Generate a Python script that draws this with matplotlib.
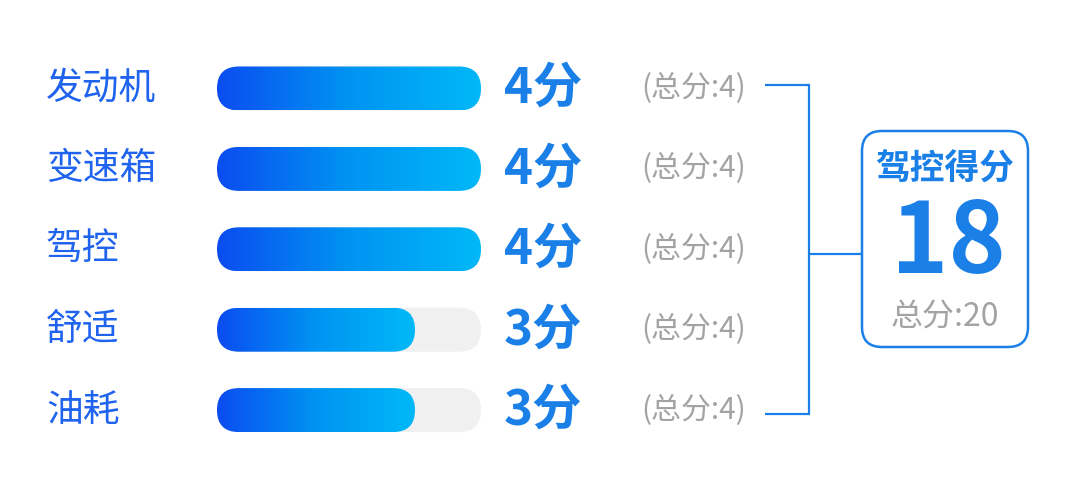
import matplotlib
matplotlib.use('Agg')
import matplotlib.pyplot as plt
from matplotlib.patches import FancyBboxPatch
from matplotlib.colors import LinearSegmentedColormap
import numpy as np

categories = ['发动机', '变速箱', '驾控', '舒适', '油耗']
scores = [4, 4, 4, 3, 3]
max_scores = [4, 4, 4, 4, 4]
total_title = '驾控得分'
total_score = sum(scores)
total_max = sum(max_scores)

plt.rcParams['font.family'] = ['Noto Sans CJK SC', 'DejaVu Sans']

fig = plt.figure(figsize=(10.8, 4.88), dpi=100)
ax = fig.add_axes([0, 0, 1, 1])

BLUE_TXT = '#1f63ee'
BLUE = '#1a80e8'
GRAY = '#a3a3a3'
cmap = LinearSegmentedColormap.from_list('g', ['#0b4cf0', '#0094f2', '#00b8f8'])

row_y0, row_step = 88.5, 80.4
bar_x0, bar_w, bar_h = 217, 264, 44
grad = np.linspace(0, 1, 256).reshape(1, -1)

for i, (cat, s, m) in enumerate(zip(categories, scores, max_scores)):
    yc = row_y0 + i * row_step
    ax.text(46, yc, cat, fontsize=26.5, color=BLUE_TXT, ha='left', va='center')
    track = FancyBboxPatch((bar_x0, yc - bar_h / 2), bar_w, bar_h,
                           boxstyle='round,pad=0,rounding_size=22',
                           fc='#f0f0f0', ec='none', zorder=1)
    ax.add_patch(track)
    fw = bar_w * s / m
    fill = FancyBboxPatch((bar_x0, yc - bar_h / 2), fw, bar_h,
                          boxstyle='round,pad=0,rounding_size=22',
                          fc='none', ec='none', transform=ax.transData)
    im = ax.imshow(grad, cmap=cmap, aspect='auto',
                   extent=(bar_x0, bar_x0 + fw, yc + bar_h / 2, yc - bar_h / 2),
                   zorder=2, interpolation='bilinear')
    im.set_clip_path(fill)
    ax.text(504, yc, f'{s}分', fontsize=35.5, fontweight='bold', color=BLUE,
            ha='left', va='center')
    ax.text(641, yc, f'(总分:{m})', fontsize=21.5, color=GRAY, ha='left', va='center')

# bracket
y_top = row_y0 - 4
y_bot = row_y0 + (len(categories) - 1) * row_step + 4
bx = 809
lw = 1.6
ax.plot([765, bx], [y_top, y_top], color=BLUE, lw=lw, solid_capstyle='butt')
ax.plot([765, bx], [y_bot, y_bot], color=BLUE, lw=lw, solid_capstyle='butt')
ax.plot([bx, bx], [y_top, y_bot], color=BLUE, lw=lw)
ymid = 254
ax.plot([bx, 861], [ymid, ymid], color=BLUE, lw=lw, solid_capstyle='butt')

box = FancyBboxPatch((862, 131), 166, 216, boxstyle='round,pad=0,rounding_size=20',
                     fc='white', ec=BLUE, lw=1.8, zorder=3)
ax.add_patch(box)
cx = 945
ax.text(cx, 169, total_title, fontsize=25, fontweight='bold', color=BLUE,
        ha='center', va='center', zorder=4)
ax.text(cx + 3, 245, str(total_score), fontsize=70, fontweight='bold', color=BLUE,
        ha='center', va='center', zorder=4)
ax.text(cx, 318, f'总分:{total_max}', fontsize=23, color=GRAY,
        ha='center', va='center', zorder=4)

ax.set_xlim(0, 1080)
ax.set_ylim(488, 0)
ax.axis('off')
fig.savefig('out.png', dpi=100, facecolor='white')
